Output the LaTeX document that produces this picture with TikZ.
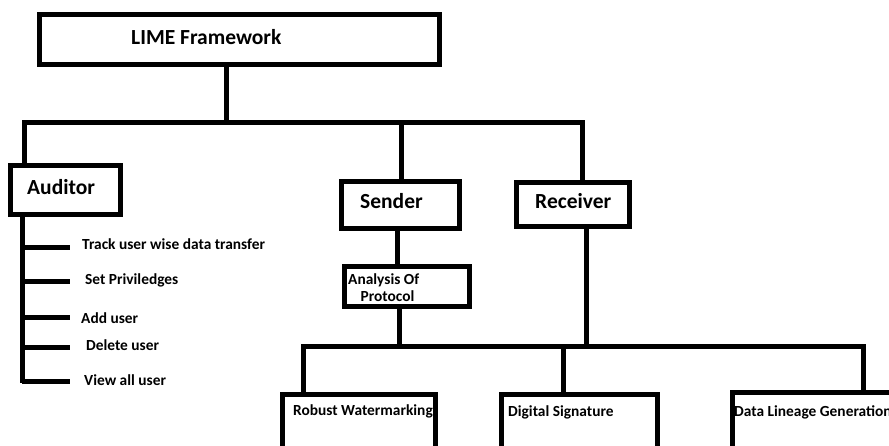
\documentclass[tikz,border=0pt]{standalone}
\usepackage{fontspec}
\setmainfont{Carlito}
\begin{document}
\begin{tikzpicture}[x=1pt,y=-1pt,
  box/.style={draw, line width=5pt, inner sep=0pt},
  lnk/.style={line width=5pt},
  big/.style={font=\bfseries\fontsize{21.5}{25}\selectfont, inner sep=0pt, anchor=base west},
  small/.style={font=\bfseries\fontsize{15.4}{18}\selectfont, inner sep=0pt, anchor=base west}]
\useasboundingbox (0,0) rectangle (889,446);
\clip (0,0) rectangle (889,446);
\fill[white] (0,0) rectangle (889,446);
% boxes
\node[box, minimum width=400pt, minimum height=50pt] (lime) at (239.5,39.5) {};
\node[box, minimum width=110pt, minimum height=49pt] (aud) at (65.5,190) {};
\node[box, minimum width=118pt, minimum height=47pt] (sen) at (400.5,205) {};
\node[box, minimum width=124.5pt, minimum height=40pt] (ana) at (406.75,286.5) {};
\node[box, minimum width=113pt, minimum height=44pt] (rec) at (573,204.5) {};
\node[box, minimum width=153pt, minimum height=75.5pt] (rob) at (359,432.25) {};
\node[box, minimum width=156pt, minimum height=75.5pt] (dig) at (579.5,432.25) {};
\node[box, minimum width=187.5pt, minimum height=77.5pt] (dat) at (826.25,431.25) {};
% texts
\node[big] (tlime) at (131,45) {LIME Framework};
\node[big] (taud) at (27,195) {Auditor};
\node[big] (tsen) at (360,209) {Sender};
\node[big] (trec) at (535,209) {Receiver};
\node[small] (tana1) at (348,285) {Analysis Of};
\node[small] (tana2) at (360.5,301.5) {Protocol};
\node[small] (i1) at (82,250) {Track user wise data transfer};
\node[small] (i2) at (85,285) {Set Priviledges};
\node[small] (i3) at (81,324) {Add user};
\node[small] (i4) at (86,351) {Delete user};
\node[small] (i5) at (84,385.5) {View all user};
\node[small] (trob) at (293,415) {Robust Watermarking};
\node[small] (tdig) at (508,416) {Digital Signature};
\node[small] (tdat) at (734,416) {Data Lineage Generation};
% connectors
\coordinate (tj) at (226,123);
\coordinate (tl) at (24,123);
\coordinate (tr) at (582,123);
\coordinate (ts) at (401,123);
\draw[lnk] (lime.south -| tj) -- (tj);
\draw[lnk] (aud.north -| tl) -- (tl) -- (tr) -- (rec.north -| tr);
\draw[lnk] (ts) -- (sen.north -| ts);
\coordinate (ab) at (22,383);
\draw[lnk] (aud.south -| ab) -- (ab);
\coordinate (k1) at (70,248);
\coordinate (k2) at (70,282);
\coordinate (k3) at (70,318);
\coordinate (k4) at (70,348);
\coordinate (k5) at (70,381);
\foreach \k in {k1,k2,k3,k4,k5} \draw[lnk] (ab |- \k) -- (\k);
\coordinate (sa) at (397,250);
\draw[lnk] (sen.south -| sa) -- (ana.north -| sa);
\coordinate (ba) at (399,347);
\draw[lnk] (ana.south -| ba) -- (ba);
\coordinate (br) at (586,347);
\draw[lnk] (rec.south -| br) -- (br);
\coordinate (b1) at (303,347);
\coordinate (b2) at (563,347);
\coordinate (b3) at (863,347);
\draw[lnk] (rob.north -| b1) -- (b1) -- (b3) -- (dat.north -| b3);
\draw[lnk] (b2) -- (dig.north -| b2);
\end{tikzpicture}
\end{document}
